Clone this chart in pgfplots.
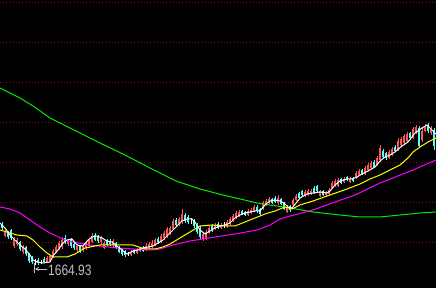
\documentclass[border=0pt]{standalone}
\usepackage{fontspec}
\setmainfont{Liberation Sans}
\usepackage{graphicx}
\usepackage{pgfplots}
\usepackage{pgfplotstable}
\usetikzlibrary{arrows.meta}
\pgfplotsset{compat=1.18}
\definecolor{cred}{RGB}{255,84,84}
\definecolor{ccyan}{RGB}{84,255,255}
\definecolor{cyel}{RGB}{255,255,0}
\definecolor{cmag}{RGB}{255,0,255}
\definecolor{cgrn}{RGB}{0,235,0}
\definecolor{cgrid}{RGB}{150,10,10}
\definecolor{clab}{RGB}{192,192,192}

\pgfplotstableread{
x o c h l
2 224 228 222 230
5 236 232 230 237
8 232 237 231 239
11 230 238 229 240
14 246 239 237 248
17 244 240 238 246
20 242 249 241 251
23 252 247 245 254
26 247 254 246 256
29 254 261 253 263
32 257 262 256 264
35 262 262 259 265
38 260 263 258 265
41 262 262 260 264
44 259 262 257 263
47 262 258 256 263
50 261 256 255 262
53 257 251 249 258
56 252 247 245 253
59 248 243 241 250
62 247 240 237 249
65 238 242 235 244
68 244 241 239 246
71 240 246 238 248
74 244 248 243 250
77 250 246 244 252
80 246 252 245 253
83 250 246 244 252
86 248 243 241 250
89 246 240 238 248
92 242 236 233 243
95 235 240 233 241
98 236 241 235 243
101 242 238 236 244
104 248 243 241 249
107 240 245 239 246
110 241 244 239 246
113 245 241 239 247
116 243 248 242 249
119 247 252 246 253
122 249 254 248 256
125 251 255 250 257
128 254 254 252 256
131 255 252 250 256
134 250 253 249 254
137 253 250 248 254
140 251 248 247 252
143 248 251 246 252
146 250 246 243 251
149 248 244 242 249
152 247 243 240 248
155 245 240 238 246
158 239 242 237 244
161 242 236 234 243
164 238 233 231 240
167 237 229 227 238
170 233 228 226 235
173 229 221 219 230
176 220 225 218 227
179 224 219 217 226
182 222 214 209 224
185 215 221 213 223
188 217 222 215 224
191 221 221 218 224
194 221 226 219 228
197 224 232 223 234
200 228 237 226 239
203 239 234 232 241
206 238 232 230 240
209 233 228 226 234
212 226 230 224 232
215 229 225 223 230
218 224 228 222 229
221 228 225 223 229
224 225 225 222 228
227 227 222 220 228
230 224 219 217 225
233 221 216 214 222
236 218 213 211 219
239 216 212 210 217
242 211 214 210 215
245 212 215 211 216
248 215 211 209 216
251 213 210 208 214
254 211 207 205 212
257 207 211 205 213
260 209 214 208 215
263 209 203 201 210
266 205 201 199 206
269 203 199 197 204
272 199 203 198 204
275 198 202 196 203
278 203 198 195 205
281 199 204 198 205
284 203 209 202 210
287 212 207 205 213
290 206 210 205 212
293 205 200 198 206
296 200 196 194 201
299 193 198 192 199
302 191 195 190 196
305 196 192 190 197
308 195 191 189 196
311 194 191 189 195
314 188 193 186 194
317 186 191 185 192
320 196 191 190 197
323 191 195 190 196
326 195 192 191 196
329 194 190 188 195
332 188 183 181 189
335 186 181 179 187
338 186 180 178 187
341 179 183 178 184
344 182 179 177 183
347 177 180 176 181
350 182 179 177 183
353 178 181 177 182
356 178 173 171 179
359 175 171 169 176
362 170 174 169 175
365 174 168 166 175
368 170 165 163 171
371 168 163 161 169
374 162 167 160 168
377 165 158 156 166
380 160 148 145 162
383 151 157 149 158
386 153 158 152 160
389 158 152 150 159
392 155 149 147 156
395 147 151 145 152
398 150 141 138 151
401 145 139 137 147
404 143 136 134 145
407 141 134 132 143
410 133 138 132 140
413 138 129 127 139
416 133 127 125 134
419 128 146 126 148
422 140 131 128 142
425 131 126 124 132
428 125 131 123 133
431 133 128 126 135
434 130 146 128 150
}\candles

\begin{document}
\begin{tikzpicture}
\begin{axis}[
  width=436pt, height=288pt, scale only axis,
  xmin=0, xmax=436, ymin=0, ymax=288, y dir=reverse,
  hide axis,
]
\fill[black] (axis cs:0,0) rectangle (axis cs:436,288);
\pgfplotsinvokeforeach{3,43,83,123,163,203,243}{
  \draw[cgrid, line width=1pt, dash pattern=on 1pt off 2.2pt] (axis cs:0,#1) -- (axis cs:436,#1);
}
% wicks
\addplot[draw=none, mark=none,
  restrict expr to domain={\thisrow{o}-\thisrow{c}}{0.5:1000},
  error bars/.cd, y dir=both, y explicit, error mark=none,
  error bar style={draw=cred, line width=0.8pt, solid}]
  table[x=x, y expr={(\thisrow{h}+\thisrow{l})/2}, y error expr={(\thisrow{l}-\thisrow{h})/2}] {\candles};
\addplot[draw=none, mark=none,
  restrict expr to domain={\thisrow{c}-\thisrow{o}}{0.5:1000},
  error bars/.cd, y dir=both, y explicit, error mark=none,
  error bar style={draw=ccyan, line width=0.8pt, solid}]
  table[x=x, y expr={(\thisrow{h}+\thisrow{l})/2}, y error expr={(\thisrow{l}-\thisrow{h})/2}] {\candles};
\addplot[draw=none, mark=none,
  restrict expr to domain={\thisrow{c}-\thisrow{o}}{-0.5:0.5},
  error bars/.cd, y dir=both, y explicit, error mark=none,
  error bar style={draw=white, line width=0.8pt, solid}]
  table[x=x, y expr={(\thisrow{h}+\thisrow{l})/2}, y error expr={(\thisrow{l}-\thisrow{h})/2}] {\candles};
% bodies
\addplot[draw=none, mark=none,
  restrict expr to domain={\thisrow{o}-\thisrow{c}}{0.5:1000},
  error bars/.cd, y dir=both, y explicit, error mark=none,
  error bar style={draw=cred, line width=1.8pt, solid}]
  table[x=x, y expr={(\thisrow{o}+\thisrow{c})/2}, y error expr={abs(\thisrow{o}-\thisrow{c})/2}] {\candles};
\addplot[draw=none, mark=none,
  restrict expr to domain={\thisrow{c}-\thisrow{o}}{0.5:1000},
  error bars/.cd, y dir=both, y explicit, error mark=none,
  error bar style={draw=ccyan, line width=1.8pt, solid}]
  table[x=x, y expr={(\thisrow{o}+\thisrow{c})/2}, y error expr={abs(\thisrow{o}-\thisrow{c})/2}] {\candles};
% moving averages
\addplot[cgrn, line width=1pt, mark=none] coordinates {
(0,88)(10,93)(20,98)(33,106)(50,118)(72,129)(100,143)(125,155)(150,168)(176,181)(200,189)(223,195)(257,203)(290,208)(313,212)(340,215)(360,217)(380,217)(400,215)(420,213)(436,212)};
\addplot[cmag, line width=1pt, mark=none] coordinates {
(0,207)(10,209)(20,213)(30,220)(40,227)(50,233)(67,241)(90,245)(117,248)(150,250)(160,249)(173,245)(190,241)(215,237)(235,234)(257,230)(270,225)(280,219)(290,216)(313,210)(335,202)(355,195)(380,183)(413,170)(436,160)};
\addplot[cyel, line width=1pt, mark=none] coordinates {
(0,230)(10,233)(17,235)(27,236)(33,240)(40,247)(47,253)(53,257)(67,257)(75,254)(85,248)(100,245)(120,245)(133,245)(145,249)(155,249)(163,247)(170,244)(180,238)(190,232)(200,226)(212,225)(225,226)(235,226)(245,222)(255,218)(265,214)(275,211)(285,207)(292,209)(300,205)(313,201)(330,195)(347,189)(360,184)(370,179)(380,175)(390,170)(400,165)(408,158)(413,152)(420,147)(428,142)(436,138)};
\addplot[white, line width=1pt, mark=none] coordinates {
(0,223)(5,228)(10,235)(15,240)(20,245)(25,249)(30,255)(33,260)(37,262)(43,263)(50,262)(53,256)(58,250)(63,243)(67,240)(72,239)(77,245)(83,246)(88,240)(92,237)(97,236)(102,238)(107,241)(112,242)(117,246)(122,250)(127,254)(133,251)(138,250)(143,248)(148,247)(153,246)(158,243)(163,240)(168,235)(172,231)(177,226)(182,221)(187,219)(192,219)(195,222)(200,230)(205,234)(210,231)(215,228)(220,226)(225,225)(230,223)(235,218)(240,215)(245,213)(250,212)(255,211)(260,211)(265,205)(270,201)(275,200)(280,201)(284,203)(288,207)(292,208)(297,202)(300,198)(307,194)(313,193)(320,192)(327,193)(330,191)(335,185)(340,181)(347,179)(352,179)(357,177)(362,174)(368,171)(375,167)(380,161)(385,157)(390,155)(395,152)(402,146)(408,142)(415,133)(422,128)(427,125)(432,130)(436,134)};
% low annotation
\draw[clab, line width=0.8pt] (axis cs:34,263) -- (axis cs:34,273);
\draw[clab, line width=0.8pt, -{Stealth[length=4pt,width=4pt]}] (axis cs:47,269) -- (axis cs:35,269);
\node[anchor=base west, inner sep=0pt, text=clab] at (axis cs:48,276) {\scalebox{0.8}[1]{\fontsize{15}{16}\selectfont 1664.93}};
\end{axis}
\end{tikzpicture}
\end{document}
